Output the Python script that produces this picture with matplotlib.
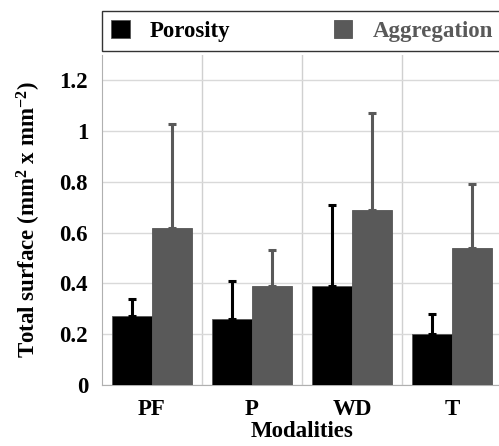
import matplotlib.pyplot as plt
import numpy as np

# Data
modalities = ['PF', 'P', 'WD', 'T']
porosity = [0.27, 0.26, 0.39, 0.20]
porosity_err = [0.07, 0.15, 0.32, 0.08]
aggregation = [0.62, 0.39, 0.69, 0.54]
aggregation_err = [0.41, 0.14, 0.38, 0.25]

plt.rcParams['font.family'] = 'Liberation Serif'
plt.rcParams['font.weight'] = 'bold'
plt.rcParams['axes.labelweight'] = 'bold'
plt.rcParams['mathtext.default'] = 'regular'

fig = plt.figure(figsize=(4.99, 4.46), dpi=100)
ax = fig.add_axes([102 / 499, 61 / 446, 400 / 499, 330 / 446])

x = np.arange(len(modalities))
w = 0.4
ax.bar(x - w / 2, porosity, w, color='black', edgecolor='#555555', linewidth=0.6,
       yerr=[np.zeros(len(x)), porosity_err], ecolor='black',
       error_kw=dict(elinewidth=2.2, capsize=3, capthick=2.2), label='Porosity', zorder=3)
ax.bar(x + w / 2, aggregation, w, color='#595959', edgecolor='#555555', linewidth=0.6,
       yerr=[np.zeros(len(x)), aggregation_err], ecolor='#595959',
       error_kw=dict(elinewidth=2.2, capsize=3, capthick=2.2), label='Aggregation', zorder=3)

ax.set_xlim(-0.5, 3.5)
ax.set_ylim(0, 1.3)
ax.set_yticks([0, 0.2, 0.4, 0.6, 0.8, 1, 1.2])
ax.set_yticklabels(['0', '0.2', '0.4', '0.6', '0.8', '1', '1.2'])
ax.set_xticks(x)
ax.set_xticklabels(modalities)
ax.set_xticks([0.5, 1.5, 2.5], minor=True)
ax.tick_params(which='both', length=0, labelsize=16.5)
ax.tick_params(axis='y', pad=10)
ax.tick_params(axis='x', pad=10)

ax.grid(axis='y', color='#d9d9d9', linewidth=1, zorder=0)
ax.grid(axis='x', which='minor', color='#d0d0d0', linewidth=1, zorder=0)

for s in ['top', 'right']:
    ax.spines[s].set_visible(False)
for s in ['left', 'bottom']:
    ax.spines[s].set_color('#b0b0b0')

ax.set_xlabel('Modalities', fontsize=16.5, labelpad=1)
ax.set_ylabel('Total surface (mm$^2$ x mm$^{-2}$)', fontsize=16.5, labelpad=12)

leg = ax.legend(loc='lower left', bbox_to_anchor=(0, 1.012, 1, 0.11), mode='expand',
                ncol=2, fontsize=16.5, frameon=True, fancybox=False, edgecolor='black',
                handlelength=0.8, handleheight=0.8, handletextpad=0.9,
                borderaxespad=0, borderpad=0.4)
leg.get_frame().set_linewidth(1)
for t in leg.get_texts()[1:]:
    t.set_color('#595959')

plt.savefig('out.png', dpi=100)
